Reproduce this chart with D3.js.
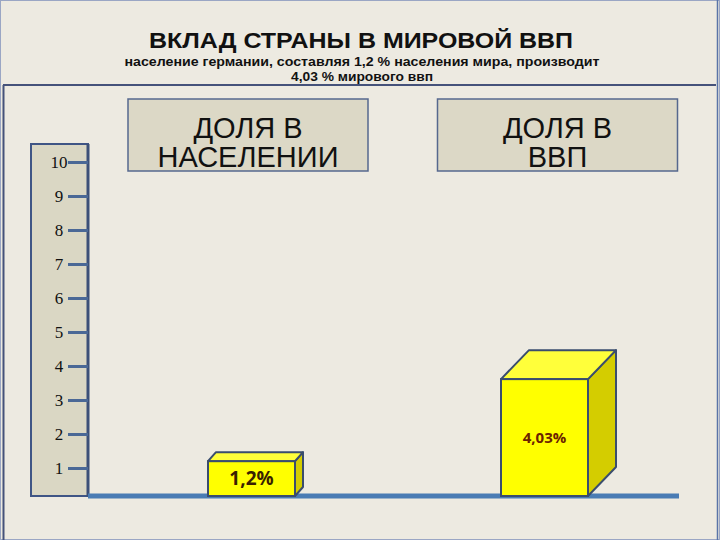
<!DOCTYPE html>
<html>
<head>
<meta charset="utf-8">
<script src="https://cdn.jsdelivr.net/npm/d3@7"></script>
<style>
  body { margin: 0; background: #edeae1; }
</style>
</head>
<body>
<div id="chart"></div>
<script>
// data
var categories = ["ДОЛЯ В НАСЕЛЕНИИ", "ДОЛЯ В ВВП"];
var categoryLines = [["ДОЛЯ В", "НАСЕЛЕНИИ"], ["ДОЛЯ В", "ВВП"]];
var values = [1.2, 4.03];
var valueLabels = ["1,2%", "4,03%"];
var tickValues = [1, 2, 3, 4, 5, 6, 7, 8, 9, 10];
var title = "ВКЛАД СТРАНЫ В МИРОВОЙ ВВП";
var subtitle = ["население германии, составляя 1,2 % населения мира,  производит", "4,03 % мирового ввп"];

// style per bar (3d depth + label colour)
var barDepth = [[8, 9], [28, 29]];
var labelColor = ["#3a1f00", "#6b2200"];
var labelSize = [19, 15];

var W = 720, H = 540;

var svg = d3.select("#chart")
  .append("svg")
    .attr("width", W)
    .attr("height", H);

svg.append("rect")
  .attr("width", W).attr("height", H)
  .attr("fill", "#edeae1");

// frame lines
svg.append("rect")
  .attr("x", 0.5).attr("y", 0.5).attr("width", W - 1).attr("height", H - 1)
  .attr("fill", "none").attr("stroke", "#9aa6c4").attr("stroke-width", 1);
svg.append("line")
  .attr("x1", 3).attr("x2", 716).attr("y1", 85).attr("y2", 85)
  .attr("stroke", "#45527a").attr("stroke-width", 2);
svg.append("line")
  .attr("x1", 3.5).attr("x2", 3.5).attr("y1", 85).attr("y2", H)
  .attr("stroke", "#45527a").attr("stroke-width", 2);
svg.append("line")
  .attr("x1", 717.5).attr("x2", 717.5).attr("y1", 0).attr("y2", H)
  .attr("stroke", "#5a74a8").attr("stroke-width", 1.5);

// titles
svg.append("text")
  .attr("x", 361).attr("y", 48)
  .attr("text-anchor", "middle")
  .attr("textLength", 424).attr("lengthAdjust", "spacingAndGlyphs")
  .style("font-family", "'Liberation Sans', Arial, sans-serif")
  .style("font-weight", "bold").style("font-size", "22px")
  .style("fill", "#111")
  .text(title);

svg.selectAll(".sub")
  .data(subtitle)
  .enter()
  .append("text")
    .attr("class", "sub")
    .attr("x", 362)
    .attr("y", function(d, i) { return 66 + i * 15; })
    .attr("text-anchor", "middle")
    .attr("textLength", function(d, i) { return i == 0 ? 475 : 142; })
    .attr("lengthAdjust", "spacingAndGlyphs")
    .style("font-family", "'Liberation Sans', Arial, sans-serif")
    .style("font-weight", "bold").style("font-size", "12px")
    .style("fill", "#111")
    .text(function(d) { return d; });

// scales
var yTick = d3.scaleLinear().domain([0, 10]).range([502, 162]);
var yBar = d3.scaleLinear().domain([0, 10]).range([496, 206]);
var xBar = d3.scalePoint().domain(categories).range([251.5, 544.5]);
var xBox = d3.scalePoint().domain(categories).range([248, 557.5]);
var barW = 87;

// ruler (y axis)
svg.append("rect")
  .attr("x", 31).attr("y", 144).attr("width", 57).attr("height", 352)
  .attr("fill", "#dad7c4")
  .attr("stroke", "#3f5585").attr("stroke-width", 2);
svg.append("line")
  .attr("x1", 88).attr("x2", 88).attr("y1", 144).attr("y2", 497)
  .attr("stroke", "#3c5078").attr("stroke-width", 3);

var axis = svg.append("g")
  .attr("transform", "translate(88,0)")
  .call(d3.axisLeft(yTick).tickValues(tickValues).tickSize(20).tickPadding(0));
axis.select(".domain").remove();
axis.selectAll(".tick line")
  .attr("stroke", "#4a6896").attr("stroke-width", 3);
axis.selectAll(".tick text")
  .attr("x", -29).attr("dy", "0.33em")
  .attr("text-anchor", "middle")
  .style("font-family", "'Liberation Serif', 'DejaVu Serif', serif")
  .style("font-size", "17px")
  .style("fill", "#111");

// baseline
svg.append("line")
  .attr("x1", 88).attr("x2", 679).attr("y1", yBar(0)).attr("y2", yBar(0))
  .attr("stroke", "#4a7cb4").attr("stroke-width", 5);

// category boxes
var boxes = svg.selectAll(".box")
  .data(categories)
  .enter()
  .append("g")
    .attr("class", "box")
    .attr("transform", function(d) { return "translate(" + xBox(d) + ",0)"; });
boxes.append("rect")
  .attr("x", -120).attr("y", 99).attr("width", 240).attr("height", 72)
  .attr("fill", "#dcd8c6")
  .attr("stroke", "#56688e").attr("stroke-width", 1.5);
boxes.append("text")
    .attr("text-anchor", "middle")
    .style("font-family", "'Liberation Sans', Arial, sans-serif")
    .style("font-size", "29px")
    .style("fill", "#111")
  .selectAll("tspan")
  .data(function(d, i) { return categoryLines[i]; })
  .enter()
  .append("tspan")
    .attr("x", 0)
    .attr("y", function(d, i) { return 138 + i * 29; })
    .text(function(d) { return d; });

// 3d bars
var bars = svg.selectAll(".bar")
  .data(values)
  .enter()
  .append("g")
    .attr("class", "bar");

bars.each(function(v, i) {
  var g = d3.select(this);
  var x0 = xBar(categories[i]) - barW / 2, x1 = x0 + barW;
  var yt = yBar(v), yb = yBar(0);
  var dx = barDepth[i][0], dy = barDepth[i][1];

  // right side
  g.append("path")
    .attr("d", d3.line()([[x1, yt], [x1 + dx, yt - dy], [x1 + dx, yb - dy], [x1, yb]]) + "Z")
    .attr("fill", "#d4cd00").attr("stroke", "#3a4d6e").attr("stroke-width", 2)
    .attr("stroke-linejoin", "round");
  // top
  g.append("path")
    .attr("d", d3.line()([[x0, yt], [x0 + dx, yt - dy], [x1 + dx, yt - dy], [x1, yt]]) + "Z")
    .attr("fill", "#ffff3a").attr("stroke", "#3a4d6e").attr("stroke-width", 2)
    .attr("stroke-linejoin", "round");
  // front
  g.append("rect")
    .attr("x", x0).attr("y", yt).attr("width", barW).attr("height", yb - yt)
    .attr("fill", "#ffff00").attr("stroke", "#3a4d6e").attr("stroke-width", 2);

  g.append("text")
    .attr("x", x0 + barW / 2)
    .attr("y", (yt + yb) / 2)
    .attr("dy", "0.36em")
    .attr("text-anchor", "middle")
    .style("font-family", "'Open Sans', 'DejaVu Sans', sans-serif")
    .style("font-weight", "bold")
    .style("font-size", labelSize[i] + "px")
    .style("fill", labelColor[i])
    .text(valueLabels[i]);
});
</script>
</body>
</html>
